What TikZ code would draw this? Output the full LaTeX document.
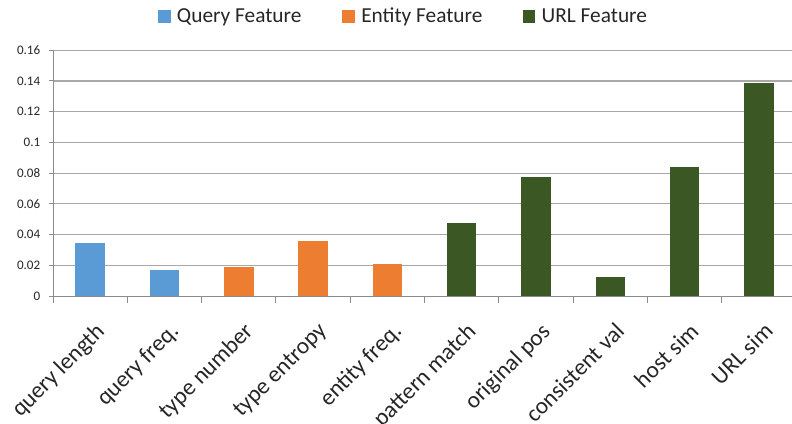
\documentclass[tikz,border=0pt]{standalone}
\usepackage{fontspec}
\setmainfont{Carlito}
\definecolor{qblue}{HTML}{5B9BD5}
\definecolor{eorange}{HTML}{ED7D31}
\definecolor{ugreen}{HTML}{3A5724}
\definecolor{gridc}{HTML}{A8A8A8}
\definecolor{axisc}{HTML}{8C8C8C}
\definecolor{txtc}{HTML}{262626}
\tikzset{
  gridline/.style={draw=gridc, line width=0.9pt},
  axisline/.style={draw=axisc, line width=0.75pt},
  ytick/.style={anchor=east, inner sep=0pt, font=\fontsize{9.8pt}{10pt}\selectfont, text=txtc},
  catlabel/.style={anchor=north east, rotate=45, inner sep=0pt, font=\fontsize{17.5pt}{18pt}\selectfont, text=txtc},
  legtext/.style={anchor=base west, inner sep=0pt, font=\fontsize{16pt}{17pt}\selectfont, text=txtc}
}
\begin{document}
\begin{tikzpicture}[x=0.75pt,y=-0.75pt]
\useasboundingbox (0,0) rectangle (792,424);
\def\xz{53}\def\yz{296}\def\dy{30.72}\def\cw{74.3}\def\bw{29.5}
% gridlines
\foreach \k in {1,...,8} {
  \draw[gridline] (\xz,{\yz-\k*\dy}) -- (792,{\yz-\k*\dy});
}
% y axis
\draw[axisline] (\xz,{\yz-8*\dy}) -- (\xz,\yz);
\foreach \k/\lab in {0/0,1/0.02,2/0.04,3/0.06,4/0.08,5/0.1,6/0.12,7/0.14,8/0.16} {
  \draw[axisline] (49,{\yz-\k*\dy}) -- (\xz,{\yz-\k*\dy});
  \node[ytick] (yt\k) at (40.5,{\yz-\k*\dy}) {\lab};
}
% bars
\foreach \i/\v/\c in {0/0.0347/qblue,1/0.0169/qblue,2/0.0191/eorange,3/0.0356/eorange,4/0.0208/eorange,5/0.0475/ugreen,6/0.0776/ugreen,7/0.0126/ugreen,8/0.0838/ugreen,9/0.1387/ugreen} {
  \fill[\c] ({\xz+(\i+0.5)*\cw-\bw/2},\yz) rectangle ({\xz+(\i+0.5)*\cw+\bw/2},{\yz-\v/0.02*\dy});
}
% x axis
\draw[axisline] (\xz,\yz) -- (792,\yz);
\foreach \i in {0,...,9} {
  \draw[axisline] ({\xz+\i*\cw},\yz) -- ({\xz+\i*\cw},{\yz+7});
}
% category labels
\foreach \i/\lab in {0/query length,1/query freq.,2/type number,3/type entropy,4/entity freq.,5/pattern match,6/original pos,7/consistent val,8/host sim,9/URL sim} {
  \node[catlabel] (cl\i) at ({\xz+(\i+0.5)*\cw+4},321) {\lab};
}
% legend
\fill[qblue] (158.3,10) rectangle (171,22.7);
\node[legtext] (lq) at (176.7,22.7) {Query Feature};
\fill[eorange] (342,10) rectangle (354.7,22.7);
\node[legtext] (le) at (361,22.7) {Entity Feature};
\fill[ugreen] (522.7,10) rectangle (535.4,22.7);
\node[legtext] (lu) at (541.4,22.7) {URL Feature};
\end{tikzpicture}
\end{document}
